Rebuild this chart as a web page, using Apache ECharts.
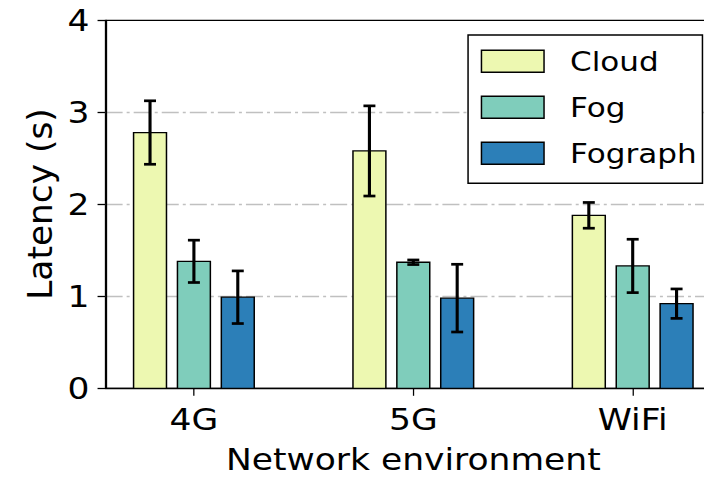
<!DOCTYPE html>
<html>
<head>
<meta charset="utf-8">
<script src="https://cdn.jsdelivr.net/npm/echarts@6/dist/echarts.min.js"></script>
<style>
  html, body { margin: 0; padding: 0; background: #fff; overflow: hidden; }
  #wrap { width: 704px; height: 479px; overflow: hidden; }
  /* the figure is laid out in a narrower box and widened horizontally */
  #chart { width: 612px; height: 479px; transform: scaleX(1.1503); transform-origin: 0 0; }
</style>
</head>
<body>
<div id="wrap"><div id="chart"></div></div>
<script>
// Network environments on the x axis
const categories = ['4G', '5G', 'WiFi'];
const seriesNames = ['Cloud', 'Fog', 'Fograph'];

// Mean latency (s) and error-bar half-length per environment
const cloudLatency = [2.78, 2.58, 1.88];
const cloudError = [0.345, 0.49, 0.14];
const fogLatency = [1.38, 1.37, 1.33];
const fogError = [0.23, 0.025, 0.29];
const fographLatency = [0.99, 0.98, 0.92];
const fographError = [0.286, 0.368, 0.16];

const yTicks = [0, 1, 2, 3, 4];

const FONT = 'DejaVu Sans';
const COLORS = ['#edf8b1', '#7fcdbb', '#2c7fb8'];
const BAR_OFFSETS = [-0.2, 0, 0.2];
const BAR_W = 0.15;
const CAP_HALF = 5.2;

const means = [cloudLatency, fogLatency, fographLatency];
const errors = [cloudError, fogError, fographError];

function makeRenderer(k) {
  const off = BAR_OFFSETS[k];
  return function (params, api) {
    const i = api.value(0), v = api.value(1), e = api.value(2);
    const c = i + off;
    const tl = api.coord([c - BAR_W / 2, v]);
    const br = api.coord([c + BAR_W / 2, 0]);
    const top = api.coord([c, v + e]);
    const bot = api.coord([c, v - e]);
    const errStyle = { stroke: '#000', lineWidth: 2.7 };
    return {
      type: 'group',
      children: [
        { type: 'rect',
          shape: { x: tl[0], y: tl[1], width: br[0] - tl[0], height: br[1] - tl[1] },
          style: { fill: api.visual('color'), stroke: '#000', lineWidth: 1.3 } },
        { type: 'line', shape: { x1: top[0], y1: top[1], x2: bot[0], y2: bot[1] }, style: errStyle },
        { type: 'line', shape: { x1: top[0] - CAP_HALF, y1: top[1], x2: top[0] + CAP_HALF, y2: top[1] }, style: errStyle },
        { type: 'line', shape: { x1: bot[0] - CAP_HALF, y1: bot[1], x2: bot[0] + CAP_HALF, y2: bot[1] }, style: errStyle }
      ]
    };
  };
}

const series = seriesNames.map((name, k) => ({
  name: name,
  type: 'custom',
  renderItem: makeRenderer(k),
  encode: { x: 0, y: 1 },
  itemStyle: { color: COLORS[k], borderColor: '#000', borderWidth: 1.3 },
  data: categories.map((_, i) => [i, means[k][i], errors[k][i]]),
  clip: false,
  z: 3
}));

const chart = echarts.init(document.getElementById('chart'), null, { renderer: 'svg' });
chart.setOption({
  animation: false,
  backgroundColor: '#fff',
  textStyle: { fontFamily: FONT, color: '#000' },
  grid: {
    left: 91.8, right: -14.8, top: 20.3, bottom: 90.7,
    containLabel: false, outerBoundsMode: 'none',
    show: true, borderColor: '#000', borderWidth: 1.3, backgroundColor: 'transparent'
  },
  xAxis: {
    type: 'value',
    min: -0.4025, max: 2.4025,
    name: 'Network environment',
    nameLocation: 'middle',
    nameGap: 56,
    nameTextStyle: { fontSize: 30, fontFamily: FONT, color: '#000' },
    axisLine: { show: true, onZero: false, lineStyle: { color: '#000', width: 1.3 } },
    axisTick: { show: true, length: 7.5, customValues: [0, 1, 2], lineStyle: { color: '#000', width: 1.1 } },
    axisLabel: {
      show: true, customValues: [0, 1, 2], margin: 16,
      fontSize: 30, fontFamily: FONT, color: '#000',
      formatter: v => categories[Math.round(v)]
    },
    splitLine: { show: false }
  },
  yAxis: {
    type: 'value',
    min: yTicks[0], max: yTicks[yTicks.length - 1], interval: 1,
    axisLine: { show: true, onZero: false, lineStyle: { color: '#000', width: 1.3 } },
    axisTick: { show: true, length: 7, lineStyle: { color: '#000', width: 1.3 } },
    axisLabel: { margin: 14, fontSize: 30, fontFamily: FONT, color: '#000', padding: [4, 0, 0, 0] },
    splitLine: {
      show: true, showMinLine: false, showMaxLine: false,
      lineStyle: { color: '#c0c0c0', width: 1.4, type: [14.8, 3.5, 2.6, 3.5] }
    }
  },
  legend: {
    orient: 'vertical',
    left: 406.9, top: 35,
    padding: [12.75, 5, 16.5, 11],
    itemWidth: 54.4, itemHeight: 22, itemGap: 19,
    icon: 'rect',
    selectedMode: false,
    backgroundColor: '#fff',
    borderColor: '#000', borderWidth: 1.3, borderRadius: 0,
    itemStyle: { borderColor: '#000', borderWidth: 1.3 },
    textStyle: { fontSize: 27, fontFamily: FONT, color: '#000', lineHeight: 22, padding: [0, 0, 0, 17.6] },
    data: seriesNames.map((n, k) => ({ name: n, itemStyle: { color: COLORS[k], borderColor: '#000', borderWidth: 1.3 } }))
  },
  graphic: [{
    type: 'text',
    x: 34.6, y: 204,
    rotation: Math.PI / 2,
    scaleY: 0.869,
    style: { text: 'Latency (s)', fontSize: 34.4, fontFamily: FONT, fill: '#000', align: 'center', verticalAlign: 'middle' }
  }],
  series: series
});
</script>
</body>
</html>
